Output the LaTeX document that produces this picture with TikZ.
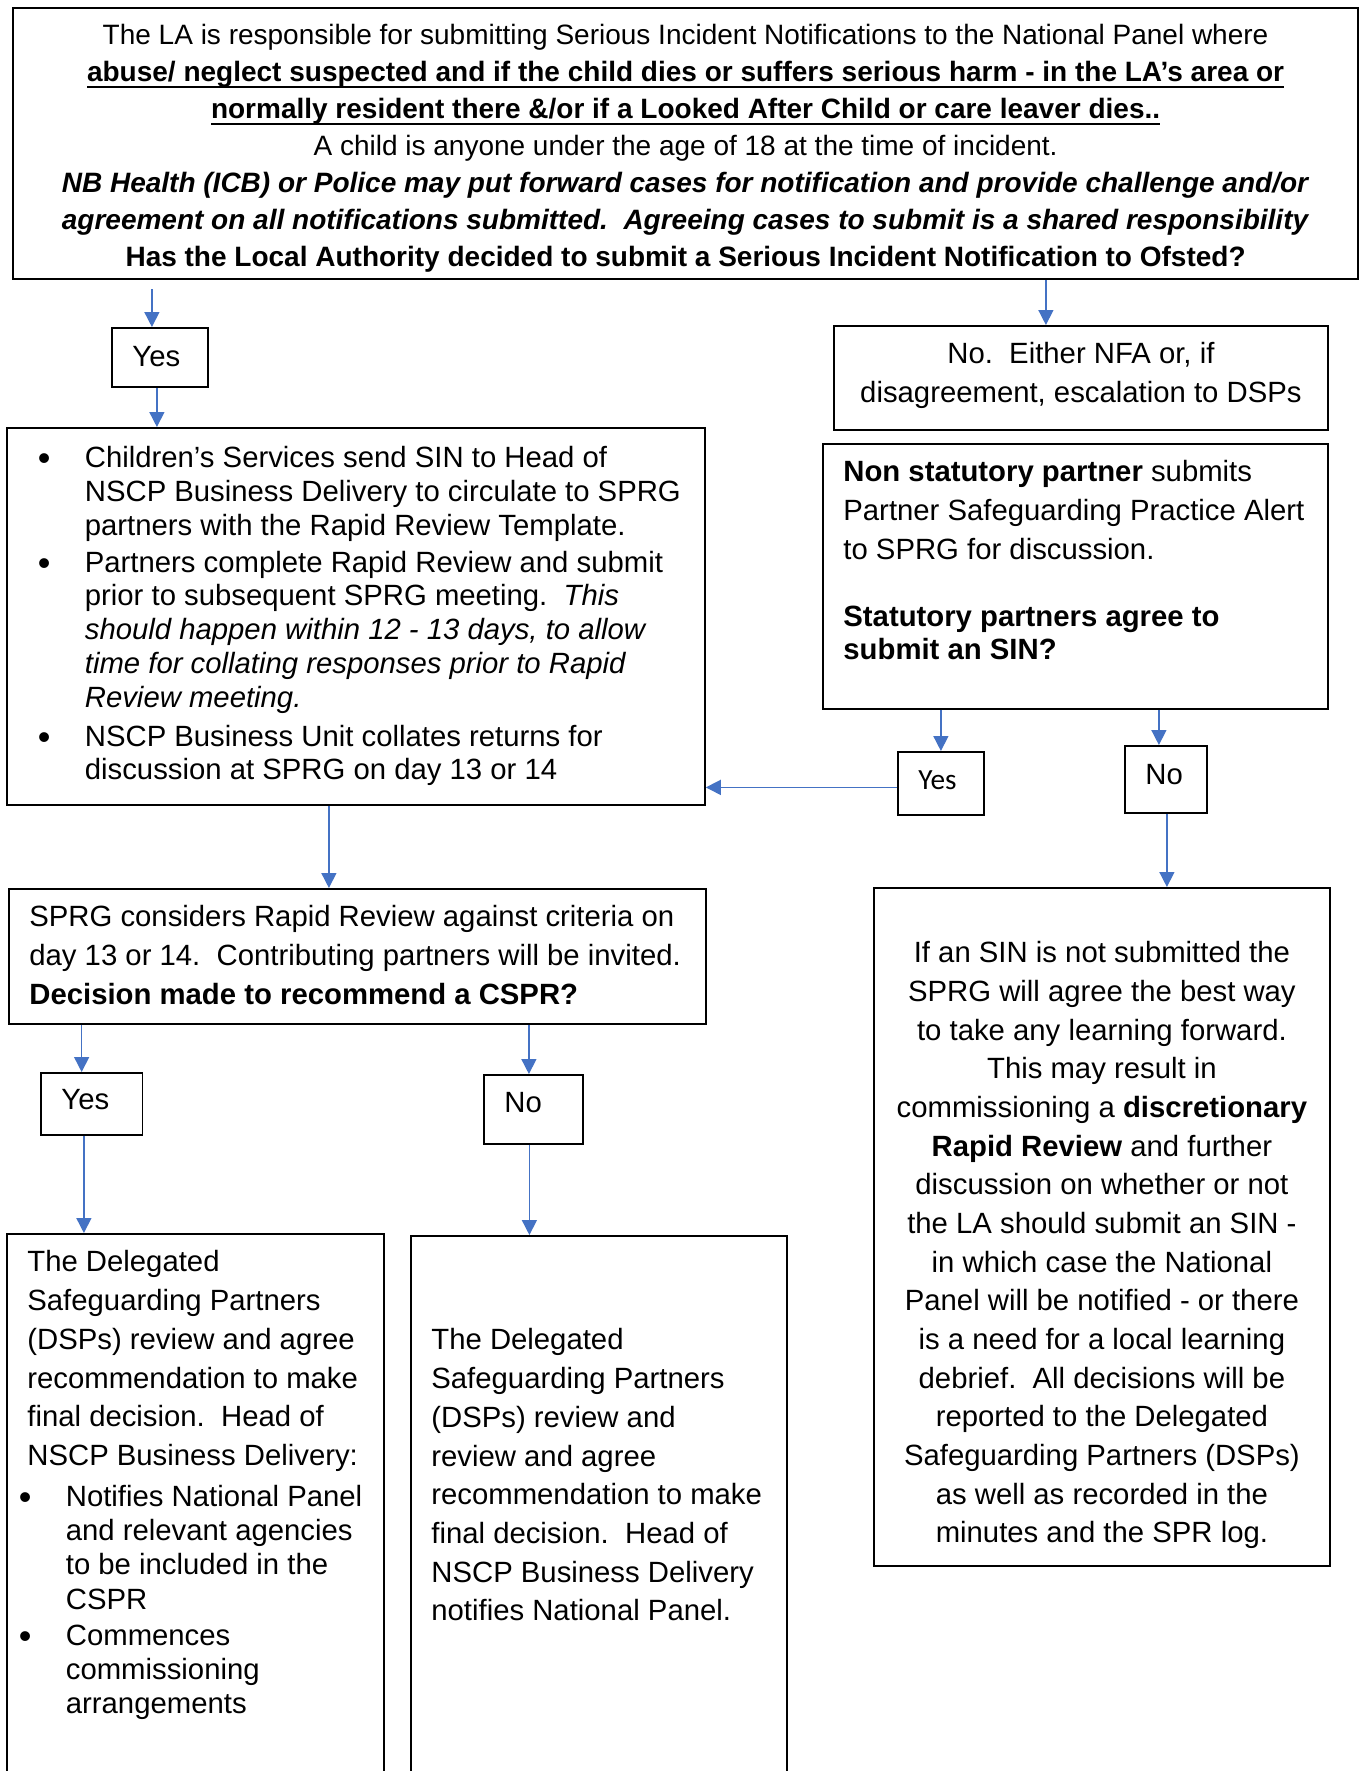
\documentclass[tikz,border=0pt]{standalone}
\usepackage{fontspec}
\setmainfont{Liberation Sans}
\newfontfamily\calibri{Carlito}
\usepackage{tikz}
\usetikzlibrary{
  arrows.meta}

\definecolor{arrowblue}{HTML}{4472C4}
\newcommand\bodyfont{\fontsize{29.3pt}{38.7pt}\selectfont}
\newcommand\natspace{\spaceskip=0.2778em\xspaceskip=0.2778em\relax}
\newsavebox\ulinebox
\newcommand\undl[1]{\sbox\ulinebox{#1}\mbox{\rlap{\rule[-7pt]{\wd\ulinebox}{2.2pt}}\usebox\ulinebox}}
\newcommand\bpoint[1]{\leavevmode\llap{\makebox[47pt][l]{\raisebox{-3pt}{\fontsize{36pt}{36pt}\selectfont\textbullet}}}#1\par}
\frenchspacing

\tikzset{
  panel/.style={draw, line width=1.8pt, anchor=north west, inner sep=0pt, font=\bodyfont},
  leftpanel/.style={panel, align=left, execute at begin node={\natspace\leftskip=20.5pt\relax}},
  midpanel/.style={panel, align=center, execute at begin node={\natspace}},
  flow/.style={arrowblue, line width=1.5pt, -{Triangle[width=15pt,length=15pt]}}
}

\begin{document}
\begin{tikzpicture}[x=1pt, y=-1pt]
\useasboundingbox (0,0) rectangle (1362,1771);
\clip (0,0) rectangle (1362,1771);
\fill[white] (0,0) rectangle (1362,1771);

\node[midpanel, line width=2.2pt, text width=1345pt, text height=36pt, text depth=235pt,
  font=\fontsize{28pt}{37pt}\selectfont] (notify) at (12,7) {The LA is responsible for submitting Serious Incident Notifications to the National Panel where\\
  \undl{\textbf{abuse/ neglect suspected and if the child dies or suffers serious harm - in the LA’s area or}}\\
  \undl{\textbf{normally resident there \&/or if a Looked After Child or care leaver dies..}}\\
  A child is anyone under the age of 18 at the time of incident.\\
  \textbf{\textit{NB Health (ICB) or Police may put forward cases for notification and provide challenge and/or}}\\
  \textbf{\textit{agreement on all notifications submitted.~~Agreeing cases to submit is a shared responsibility}}\\
  \textbf{Has the Local Authority decided to submit a Serious Incident Notification to Ofsted?}};

\node[leftpanel, text width=96pt, text height=39pt, text depth=20pt] (yesla) at (111,327) {Yes};
\node[midpanel, text width=494pt, text height=38pt, text depth=66pt] (nola) at (833,325)
  {No.~~Either NFA or, if\\disagreement, escalation to DSPs};

\node[leftpanel, text width=505pt, text height=38pt, text depth=227pt] (alert) at (822,443)
  {\textbf{Non statutory partner} submits\\Partner Safeguarding Practice Alert\\to SPRG for discussion.\par
  \vspace{34pt}{\fontsize{29.3pt}{33pt}\selectfont\textbf{Statutory partners agree to\\submit an SIN?}\par}};

\node[leftpanel, text width=698pt, text height=40pt, text depth=337pt] (circulate) at (6,427)
  {\fontsize{29.3pt}{33.8pt}\selectfont\leftskip=78pt
  \bpoint{Children’s Services send SIN to Head of\\NSCP Business Delivery to circulate to SPRG\\partners with the Rapid Review Template.}
  \vspace{2.7pt}
  \bpoint{Partners complete Rapid Review and submit\\prior to subsequent SPRG meeting.~~\textit{This\\should happen within 12 - 13 days, to allow\\time for collating responses prior to Rapid\\Review meeting.}}
  \vspace{5pt}
  \bpoint{NSCP Business Unit collates returns for\\discussion at SPRG on day 13 or 14}};

\node[leftpanel, text width=86pt, text height=38pt, text depth=25pt, font=\calibri\bodyfont] (yesalert) at (897,751) {Yes};
\node[leftpanel, text width=82pt, text height=39pt, text depth=28pt] (noalert) at (1124,745) {No};

\node[leftpanel, text width=697pt, text height=38pt, text depth=97pt] (sprg) at (8,888)
  {SPRG considers Rapid Review against criteria on\\day 13 or 14.~~Contributing partners will be invited.\\\textbf{Decision made to recommend a CSPR?}};

\node[midpanel, text width=456pt, text height=75pt, text depth=603pt,
  font=\fontsize{29.3pt}{38.66pt}\selectfont] (learning) at (873,887)
  {If an SIN is not submitted the\\SPRG will agree the best way\\to take any learning forward.\\This may result in\\commissioning a \textbf{discretionary}\\\textbf{Rapid Review} and further\\discussion on whether or not\\the LA should submit an SIN -\\in which case the National\\Panel will be notified - or there\\is a need for a local learning\\debrief.~~All decisions will be\\reported to the Delegated\\Safeguarding Partners (DSPs)\\as well as recorded in the\\minutes and the SPR log.};

\node[leftpanel, text width=101.5pt, text height=37pt, text depth=25pt] (yescspr) at (40,1072) {Yes};
\node[leftpanel, text width=99pt, text height=38pt, text depth=31pt] (nocspr) at (483,1074) {No};

\node[leftpanel, text width=377pt, text height=38pt, text depth=700pt] (dspyes) at (6,1233)
  {The Delegated\\Safeguarding Partners\\(DSPs) review and agree\\recommendation to make\\final decision.~~Head of\\NSCP Business Delivery:\par
  \fontsize{29.3pt}{34.3pt}\selectfont\leftskip=59pt\vspace{6.5pt}
  \bpoint{Notifies National Panel\\and relevant agencies\\to be included in the\\CSPR}
  \vspace{1.7pt}
  \bpoint{Commences\\commissioning\\arrangements}};

\node[leftpanel, text width=376pt, text height=114pt, text depth=700pt] (dspno) at (410,1235)
  {The Delegated\\Safeguarding Partners\\(DSPs) review and\\review and agree\\recommendation to make\\final decision.~~Head of\\NSCP Business Delivery\\notifies National Panel.};

\foreach \src/\dst/\dx in {notify/nola/-35, yesla/circulate/-199, alert/yesalert/0, alert/noalert/-7,
  noalert/learning/65, circulate/sprg/-28.5, sprg/yescspr/-10, sprg/nocspr/-4.5,
  yescspr/dspyes/-111.5, nocspr/dspno/-69.5}
  \draw[flow] ([xshift=\dx pt]\dst.north |- \src.south) -- ([xshift=\dx pt]\dst.north);
\draw[flow, shorten <=9pt] ([xshift=-8pt]yesla.north |- notify.south) -- ([xshift=-8pt]yesla.north);
\draw[flow] ([yshift=-4pt]yesalert.west) -- ([yshift=-4pt]yesalert.west -| circulate.east);
\end{tikzpicture}
\end{document}
